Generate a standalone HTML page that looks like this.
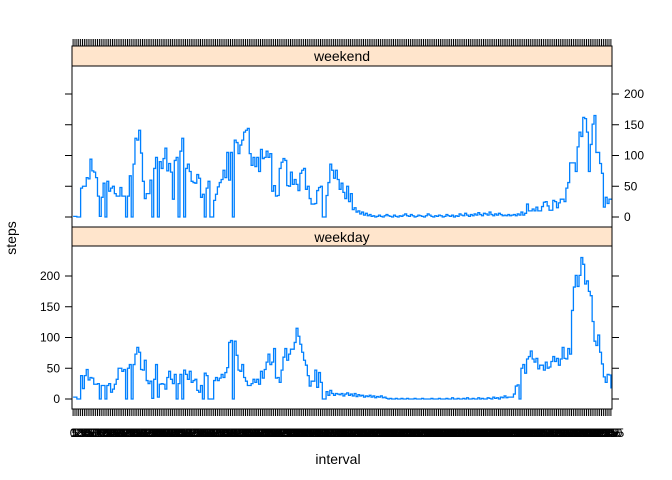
<!DOCTYPE html>
<html><head><meta charset="utf-8"><style>
body{margin:0;background:#fff;}
svg{display:block;font-family:"Liberation Sans",sans-serif;}
</style></head><body>
<svg id="chart" width="672" height="480"></svg>
<script>
const nIntervals = 288;
const panelNames = ["weekend", "weekday"];
const weekendSteps = [1,1,0,0,47,50,50,64,62,94,75,73,64,34,1,32,55,0,58,42,47,50,38,34,34,48,34,34,0,34,67,0,86,128,125,141,104,58,30,38,38,60,0,79,97,0,90,79,95,112,75,87,73,29,92,97,0,107,128,0,79,86,74,58,56,55,69,63,32,37,0,47,58,0,0,
27,37,49,56,61,76,64,105,60,105,0,125,121,103,117,125,138,141,144,103,84,97,82,97,74,110,95,97,107,97,103,42,51,34,35,79,89,95,92,51,50,73,53,61,53,43,71,76,79,45,50,30,21,21,22,43,48,50,0,0,35,56,86,76,63,76,61,45,55,40,30,
50,25,38,12,15,8,10,5,8,3,6,2,4,1,2,0,1,3,1,0,2,4,2,1,0,3,1,0,2,1,3,5,2,1,4,2,0,1,3,2,1,0,2,5,3,1,0,2,1,3,2,0,1,4,2,1,3,0,2,1,5,3,2,6,3,1,4,2,5,3,7,4,2,6,5,3,8,4,2,5,3,6,4,
2,3,2,4,2,3,4,2,5,3,8,3,6,21,10,10,13,10,16,10,10,17,24,25,18,11,11,27,25,15,23,29,29,25,47,56,88,88,88,74,114,138,131,162,160,138,74,118,151,165,105,105,87,71,16,32,22,29,30];
const weekdaySteps = [3,3,0,0,38,17,38,48,31,35,34,24,24,25,0,22,22,0,22,25,11,16,24,32,50,50,45,48,0,50,56,0,56,73,84,76,48,47,63,30,25,29,1,32,56,3,24,25,24,16,35,45,32,25,40,0,25,40,0,47,40,32,45,27,30,32,14,11,22,0,42,38,0,0,0,
30,35,30,34,40,35,43,51,92,95,0,94,71,47,45,56,35,29,22,22,25,32,27,32,24,45,34,48,60,73,56,60,82,34,35,27,47,68,82,63,73,81,81,92,115,102,89,76,63,55,38,21,29,29,47,19,43,27,0,0,12,6,14,9,6,9,8,7,9,5,8,
10,6,8,5,9,4,7,5,6,3,5,4,6,3,5,2,4,3,5,2,3,1,0,1,0,0,1,0,0,1,0,0,1,0,0,0,1,0,0,0,1,0,0,0,0,1,0,0,0,1,0,0,0,1,0,0,2,0,0,1,0,0,1,0,2,0,0,1,0,0,2,0,1,0,0,2,1,0,3,1,2,0,3,
2,5,2,3,3,3,8,21,23,0,50,56,42,65,69,78,65,60,66,49,55,55,47,60,50,52,61,69,61,66,55,65,84,66,65,82,73,144,182,201,183,201,230,219,187,192,175,168,126,94,87,104,76,57,36,27,40,39,17];
const yTicks = [0,50,100,150,200];

const NS="http://www.w3.org/2000/svg";
const svg=document.getElementById('chart');
function mk(tag,attrs,parent){const e=document.createElementNS(NS,tag);for(const k in attrs)e.setAttribute(k,attrs[k]);(parent||svg).appendChild(e);return e;}
const X0=72,X1=612;
function xs(i){return X0+(i-0.4)*(X1-X0)/(nIntervals+0.2);}
const scaleK=0.615;
const panels=[{name:"weekend",top:66,bot:227,zero:217,strip:46,data:weekendSteps,labRight:true},
              {name:"weekday",top:246,bot:409,zero:399,strip:227,data:weekdaySteps,labRight:false}];
function intervalLabel(i){const m=(i-1)*5;return String(Math.floor(m/60)*100+m%60);}

panels.forEach(p=>{
  const ys=v=>p.zero-v*scaleK;
  const g=mk('g',{});
  
  
  const strip=mk('rect',{x:X0,y:p.strip,width:X1-X0,height:p.top-p.strip,fill:'#ffe5cc',stroke:'#000','stroke-width':1},g);
  
  
  const st=mk('text',{x:(X0+X1)/2,y:p.strip+15,'text-anchor':'middle','font-size':14,fill:'#000'},g);
  st.textContent=p.name;
  
  
  const box=mk('rect',{x:X0,y:p.top,width:X1-X0,height:p.bot-p.top,fill:'none',stroke:'#000','stroke-width':1},g);
  
  
  yTicks.forEach(t=>{
    const y=ys(t);
    mk('line',{x1:X0-7,x2:X0,y1:y,y2:y,stroke:'#000'},g);
    mk('line',{x1:X1,x2:X1+7,y1:y,y2:y,stroke:'#000'},g);
    const tx=mk('text',{x:p.labRight?X1+12:X0-12,y:y+4,'text-anchor':p.labRight?'start':'end','font-size':12},g);
    tx.textContent=t;
    
    
  });
  let d='M'+xs(1)+','+ys(p.data[0]);
  for(let i=1;i<p.data.length;i++){d+='H'+xs(i+1)+'V'+ys(p.data[i]);}
  const line=mk('path',{d:d,fill:'none',stroke:'#0080ff','stroke-width':1.3},g);
  
  
});
// x ticks top and bottom
const tg=mk('g',{});


let dt='';
for(let i=1;i<=nIntervals;i++){const x=xs(i).toFixed(1);dt+='M'+x+',39V46M'+x+',409V416';}
mk('path',{d:dt,stroke:'#000','stroke-width':1,fill:'none'},tg);
for(let i=1;i<=nIntervals;i++){
  const t=mk('text',{x:xs(i),y:437,'text-anchor':'middle','font-size':12},tg);
  t.textContent=intervalLabel(i);
  
  
}
const xl=mk('text',{x:338,y:464,'text-anchor':'middle','font-size':14});
xl.textContent='interval';


const yl=mk('text',{x:0,y:0,'text-anchor':'middle','font-size':14,transform:'translate(16,238) rotate(-90)'});
yl.textContent='steps';


</script>
</body></html>
